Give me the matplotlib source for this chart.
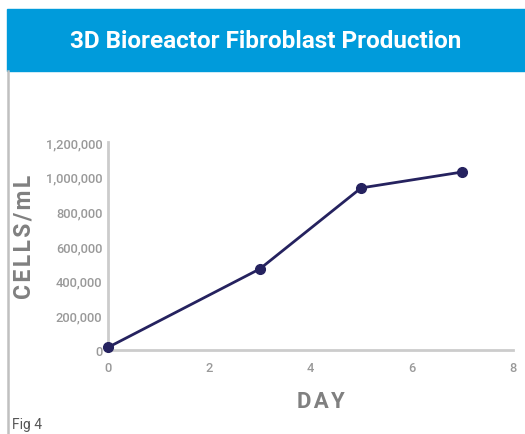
import matplotlib
matplotlib.use("Agg")
import matplotlib.pyplot as plt
from matplotlib.patches import Rectangle
from matplotlib.lines import Line2D
from matplotlib.ticker import FuncFormatter

plt.rcParams['font.family'] = ['Roboto', 'DejaVu Sans']

# data
days = [0, 3, 5, 7]
cells_per_ml = [15000, 468000, 935000, 1027000]
x_ticks = [0, 2, 4, 6, 8]
y_ticks = [0, 200000, 400000, 600000, 800000, 1000000, 1200000]

title = "3D Bioreactor Fibroblast Production"
header_blue = "#009bdb"
navy = "#25225f"
axis_gray = "#cccccc"
label_gray = "#808080"
tick_gray = "#999999"

W, H = 525, 435
fig = plt.figure(figsize=(W / 100, H / 100), dpi=100)

# blue header band
fig.patches.append(Rectangle((7 / W, 1 - 72 / H), 1 - 7 / W, 62 / H,
                             transform=fig.transFigure, color=header_blue, zorder=0))
fig.text((7 + W) / 2 / W, 1 - 42 / H, title, color="white", fontsize=17.5,
         fontweight="bold", ha="center", va="center")

# thin left border below the header
fig.lines.append(Line2D([7.5 / W, 7.5 / W], [0, 1 - 72 / H],
                        transform=fig.transFigure, color="#c0c0c0", lw=1.8))
fig.text(12 / W, 1 - 425 / H, "Fig 4", color="#555555", fontsize=10,
         ha="left", va="center")

# axes: x 0..8 maps px 108..513, y 0..1.2M maps px 351..143
ax = fig.add_axes([108 / W, 1 - 351 / H, (513 - 108) / W, (351 - 143) / H])
ax.plot(days, cells_per_ml, color=navy, lw=2, marker="o", markersize=7,
        clip_on=False, zorder=5)

ax.set_xlim(0, 8)
ax.set_ylim(0, 1200000)
ax.set_xticks(x_ticks)
ax.set_yticks(y_ticks)
ax.yaxis.set_major_formatter(FuncFormatter(lambda v, p: f"{int(v):,}"))

for s in ["top", "right"]:
    ax.spines[s].set_visible(False)
for s in ["left", "bottom"]:
    ax.spines[s].set_color(axis_gray)
    ax.spines[s].set_linewidth(2)

ax.tick_params(length=0, colors=tick_gray, labelsize=9.3)
ax.tick_params(axis="x", pad=8)
ax.tick_params(axis="y", pad=4)
for lbl in ax.get_xticklabels() + ax.get_yticklabels():
    lbl.set_fontweight("medium")

sp = "\u200a"  # hair space for the letter-spaced axis titles
ax.set_xlabel(sp.join("DAY"), color=label_gray, fontsize=16, fontweight="bold")
ax.set_ylabel(sp.join("CELLS/mL"), color=label_gray, fontsize=16.5, fontweight="bold")
# the titles sit a bit off centre in the original
ax.xaxis.set_label_coords(0.526, -0.19)
ax.yaxis.set_label_coords(-0.18, 0.55)

fig.savefig("out.png", dpi=100)
